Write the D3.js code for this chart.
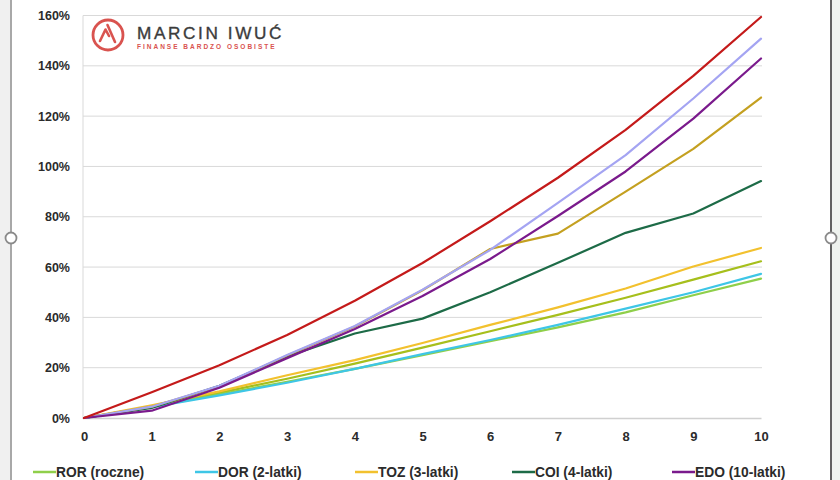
<!DOCTYPE html>
<html><head><meta charset="utf-8">
<script src="https://cdn.jsdelivr.net/npm/d3@7"></script>
<style>body{margin:0;background:#fff;}svg{display:block;}</style>
</head><body>
<svg id="c" width="840" height="480"></svg>
<script>
const years = [0,1,2,3,4,5,6,7,8,9,10];
const yTicks = [0,20,40,60,80,100,120,140,160];
const xTicks = [0,1,2,3,4,5,6,7,8,9,10];
// unnamed series (not in visible legend)
const redVals      = [0,10.2,21,33,46.6,61.6,78.2,95.5,114.5,136,159.4];
const lavenderVals = [0,4.5,12.8,25,36.6,51,66.8,85.5,104.5,127,150.8];
const goldVals     = [0,4.5,12.6,24.8,36.4,50.8,67.2,73.3,90,107,127.4];
const limeVals     = [0,4.6,10,15.6,21.6,28,34.5,41,47.8,55,62.3];
// legend series
const rorVals = [0,4.4,9.4,14.4,19.5,25,30.5,36,42,48.8,55.4];
const dorVals = [0,4.3,9,14,19.5,25.4,31,37,43.5,50,57.3];
const tozVals = [0,5,10.6,17,23,29.8,37,44,51.5,60.2,67.6];
const coiVals = [0,4,12.8,24.5,33.6,39.5,50,61.7,73.6,81.3,94.2];
const edoVals = [0,2.9,12,23.8,35.4,48.5,63.2,80.3,98,119,142.9];

const seriesNames = ["ROR (roczne)","DOR (2-latki)","TOZ (3-latki)","COI (4-latki)","EDO (10-latki)"];

const series = [
  {name:null, vals:limeVals, color:"#a6bf1c"},
  {name:seriesNames[0], vals:rorVals, color:"#8fcf4a"},
  {name:seriesNames[1], vals:dorVals, color:"#3ec6e6"},
  {name:seriesNames[2], vals:tozVals, color:"#f2c12e"},
  {name:seriesNames[3], vals:coiVals, color:"#1d6b47"},
  {name:null, vals:goldVals, color:"#c4a020"},
  {name:null, vals:lavenderVals, color:"#a4a4f2"},
  {name:seriesNames[4], vals:edoVals, color:"#7a1a8c"},
  {name:null, vals:redVals, color:"#c41a1a"}
];

const svg = d3.select("#c");
// frame decorations (screenshot of a selected chart)
svg.append("rect").attr("x",0).attr("y",0).attr("width",10).attr("height",480).attr("fill","#f0f0f0");
svg.append("line").attr("x1",11).attr("x2",11).attr("y1",0).attr("y2",480).attr("stroke","#a8a8a8").attr("stroke-width",2);
svg.append("rect").attr("x",832).attr("y",0).attr("width",8).attr("height",480).attr("fill","#eef2ee");
svg.append("line").attr("x1",831).attr("x2",831).attr("y1",0).attr("y2",480).attr("stroke","#606060").attr("stroke-width",2);
[11,831].forEach(cx=>svg.append("circle").attr("cx",cx).attr("cy",238).attr("r",5.5).attr("fill","#fff").attr("stroke","#8a8a8a").attr("stroke-width",1.8));

const x = d3.scaleLinear().domain([0,10]).range([84,761]);
const y = d3.scaleLinear().domain([0,160]).range([418,15.5]);

// gridlines
svg.append("g").selectAll("line").data(yTicks.filter(d=>d>0)).join("line")
  .attr("x1",83).attr("x2",762).attr("y1",d=>y(d)).attr("y2",d=>y(d))
  .attr("stroke","#d9d9d9").attr("stroke-width",1);
svg.append("line").attr("x1",83).attr("x2",83).attr("y1",y(160)).attr("y2",418).attr("stroke","#d9d9d9");

// y axis
const yAxis = svg.append("g").attr("transform","translate(83,0)")
  .call(d3.axisLeft(y).tickValues(yTicks).tickFormat(d=>d+"%").tickSize(0).tickPadding(13));
yAxis.select(".domain").remove();
yAxis.selectAll("text").attr("font-family","Liberation Sans, Arial, sans-serif").attr("font-weight","bold").attr("font-size","12.5px").attr("fill","#2b2b2b");

// x axis
const xAxis = svg.append("g").attr("transform","translate(0,418)")
  .call(d3.axisBottom(x).tickValues(xTicks).tickFormat(d3.format("d")).tickSize(0).tickPadding(14));
xAxis.select(".domain").attr("stroke","#d0d0d0").attr("stroke-width",1.5);
xAxis.selectAll("text").attr("font-family","Liberation Sans, Arial, sans-serif").attr("font-weight","bold").attr("font-size","13px").attr("fill","#2b2b2b");

// lines
const line = d3.line().x((d,i)=>x(years[i])).y(d=>y(d));
svg.append("g").selectAll("path").data(series).join("path")
  .attr("d",d=>line(d.vals)).attr("fill","none").attr("stroke",d=>d.color)
  .attr("stroke-width",2.2).attr("stroke-linejoin","round").attr("stroke-linecap","round");

// legend
const legX = [33,195,355,512,672];
const leg = svg.append("g").selectAll("g").data(series.filter(s=>s.name)).join("g")
  .attr("transform",(d,i)=>`translate(${legX[i]},472)`);
leg.append("line").attr("x1",0).attr("x2",23).attr("y1",0).attr("y2",0).attr("stroke",d=>d.color).attr("stroke-width",2.5);
leg.append("text").attr("x",23).attr("y",0).attr("dy","0.36em").text(d=>d.name)
  .attr("font-family","Liberation Sans, Arial, sans-serif").attr("font-weight","bold").attr("font-size","13.8px").attr("fill","#2b2b2b");

// logo
const logo = svg.append("g");
logo.append("rect").attr("x",84).attr("y",17).attr("width",215).attr("height",44).attr("fill","#fff");
logo.append("circle").attr("cx",108).attr("cy",35).attr("r",15).attr("fill","none").attr("stroke","#d9534f").attr("stroke-width",2.8);
logo.append("path").attr("d","M100,41 L105.5,29.5 L109,36 M107.5,25 L115,42").attr("fill","none").attr("stroke","#d9534f").attr("stroke-width",2.6).attr("stroke-linecap","round").attr("stroke-linejoin","round");
logo.append("text").attr("x",137).attr("y",38.6).text("MARCIN IWUĆ")
  .attr("font-family","Liberation Sans, Arial, sans-serif").attr("font-size","17.2px").attr("letter-spacing","2.6px")
  .attr("fill","#3b3b3b").attr("stroke","#3b3b3b").attr("stroke-width",0.35);
logo.append("text").attr("x",137).attr("y",48.8).text("FINANSE BARDZO OSOBISTE")
  .attr("font-family","Liberation Sans, Arial, sans-serif").attr("font-weight","bold").attr("font-size","6.5px").attr("letter-spacing","2px").attr("fill","#d9534f");
</script>
</body></html>
